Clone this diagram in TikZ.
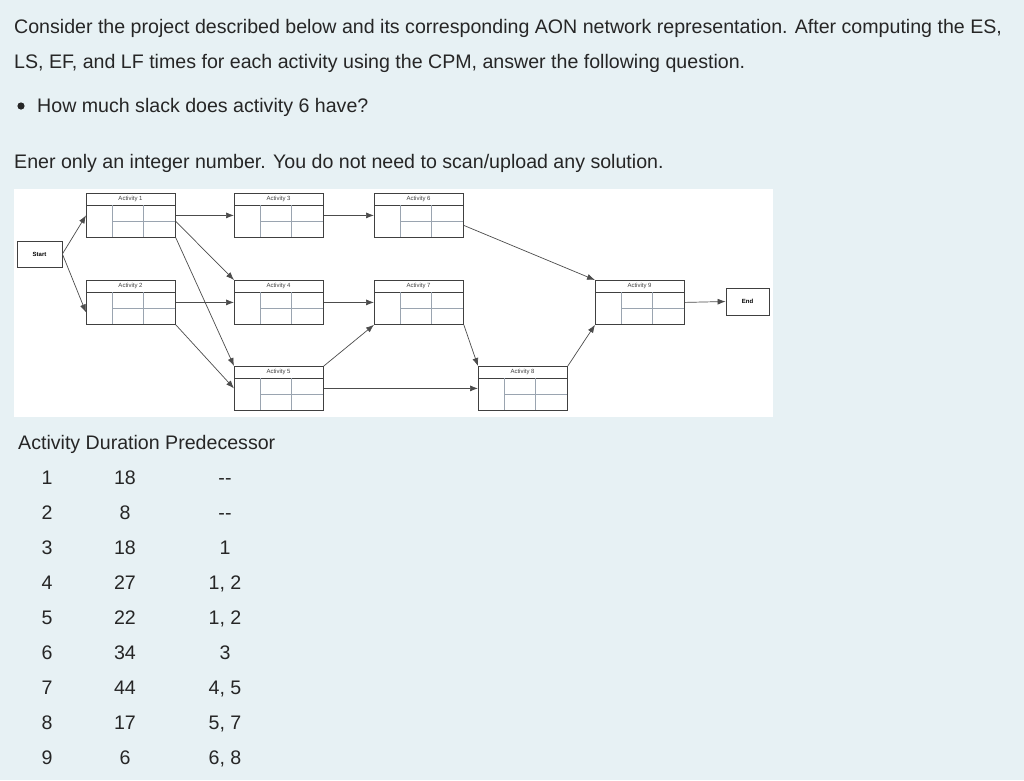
\documentclass[tikz,border=0pt]{standalone}
\usepackage{fontspec}
\setmainfont{Liberation Sans}
\usetikzlibrary{arrows.meta}
\definecolor{bg}{HTML}{E7F1F4}
\definecolor{gridc}{HTML}{9AA4B0}
\begin{document}
\begin{tikzpicture}[x=1pt,y=-1pt,
  txt/.style={anchor=base west,inner sep=0pt,font=\fontsize{19.6}{23}\selectfont,text=black!85},
  cell/.style={anchor=base,inner sep=0pt,font=\fontsize{19.6}{23}\selectfont,text=black!85},
  lab/.style={inner sep=0pt,font=\fontsize{6}{7}\selectfont,text=black!75},
  arr/.style={draw=black!70,line width=0.7pt,-{Latex[length=8pt,width=6pt]}}]
\fill[bg] (0,0) rectangle (1024,780);
\useasboundingbox (0,0) rectangle (1024,780);
\fill[white] (14,189) rectangle (773,417);
\node[txt] (t1) at (14,33) {Consider the project described below and its corresponding AON network representation. After computing the ES,};
\node[txt] (t2) at (14,68) {LS, EF, and LF times for each activity using the CPM, answer the following question.};
\node[txt] (t3) at (37,112) {How much slack does activity 6 have?};
\fill[black!85] (21,106) circle (3.6pt);
\node[txt] (t4) at (14,168) {Ener only an integer number. You do not need to scan/upload any solution.};
% activity boxes
\newcommand{\actbox}[4]{%
  \node[draw=black!75,line width=0.8pt,minimum width=89pt,minimum height=44pt,inner sep=0pt,anchor=north west] (#1) at (#2,#3) {};
  \draw[black!75,line width=0.6pt] (#2,#3+12) -- (#2+89,#3+12);
  \draw[gridc,line width=0.6pt] (#2+26,#3+12) -- (#2+26,#3+44) (#2+57,#3+12) -- (#2+57,#3+44) (#2+26,#3+28) -- (#2+89,#3+28);
  \node[lab] at (#2+44.5,#3+6) {#4};}
\actbox{a1}{86}{193}{Activity 1}
\actbox{a2}{86}{280}{Activity 2}
\actbox{a3}{234}{193}{Activity 3}
\actbox{a4}{234}{280}{Activity 4}
\actbox{a5}{234}{366}{Activity 5}
\actbox{a6}{374}{193}{Activity 6}
\actbox{a7}{374}{280}{Activity 7}
\actbox{a8}{478}{366}{Activity 8}
\actbox{a9}{595}{280}{Activity 9}
\node[draw=black!75,line width=0.8pt,minimum width=45pt,minimum height=26pt,inner sep=0pt,font=\fontsize{6}{7}\selectfont\bfseries] (st) at (39.5,254) {Start};
\node[draw=black!75,line width=0.8pt,minimum width=43pt,minimum height=27pt,inner sep=0pt,font=\fontsize{6}{7}\selectfont\bfseries] (en) at (747.5,301.5) {End};
% connectors
\draw[arr] (st.east) -- (a1.west);
\draw[arr] (st.east) -- ([yshift=-10pt]a2.west);
\draw[arr] (a1.east) -- (a3.west);
\draw[arr] ([yshift=-6pt]a1.east) -- (a4.north west);
\draw[arr] (a1.south east) -- (a5.north west);
\draw[arr] (a2.east) -- (a4.west);
\draw[arr] (a2.south east) -- (a5.west);
\draw[arr] (a3.east) -- (a6.west);
\draw[arr] (a4.east) -- (a7.west);
\draw[arr] (a5.north east) -- (a7.south west);
\draw[arr] (a5.east) -- (a8.west);
\draw[arr] ([yshift=-10pt]a6.east) -- (a9.north west);
\draw[arr] (a7.south east) -- (a8.north west);
\draw[arr] (a8.north east) -- (a9.south west);
\draw[arr] (a9.east) -- (en.west);
% table
\node[txt] (h) at (18,449) {Activity Duration Predecessor};
\foreach \a/\d/\p [count=\i] in {1/18/{{-}{-}},2/8/{{-}{-}},3/18/1,4/27/{1, 2},5/22/{1, 2},6/34/3,7/44/{4, 5},8/17/{5, 7},9/6/{6, 8}}{
  \node[cell] (c\i a) at (47,449+35*\i) {\a};
  \node[cell] (c\i b) at (125,449+35*\i) {\d};
  \node[cell] (c\i c) at (225,449+35*\i) {\p};
}
\end{tikzpicture}
\end{document}
